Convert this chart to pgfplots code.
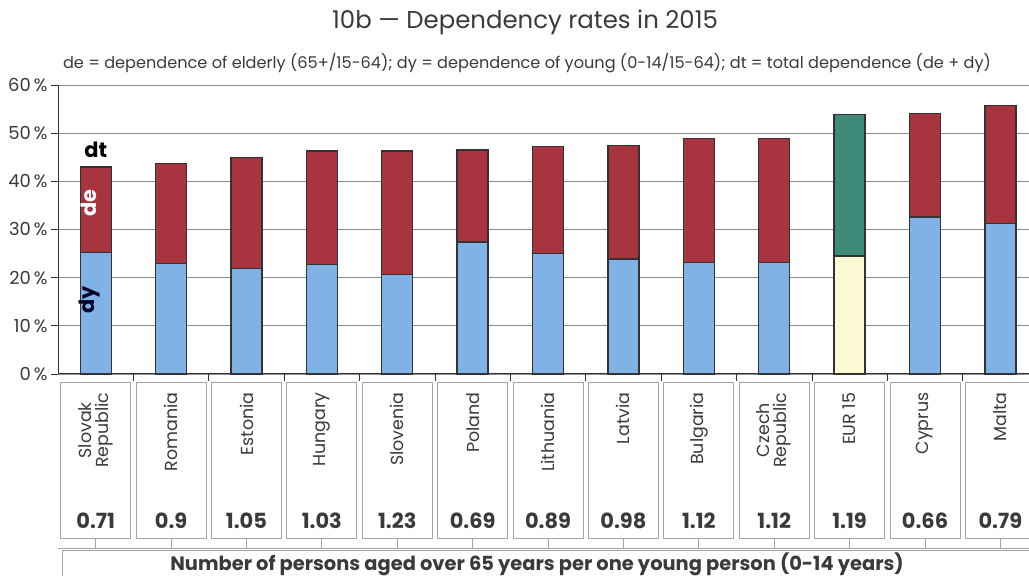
\documentclass[border=0pt]{standalone}
\usepackage{pgfplots}
\pgfplotsset{compat=1.18}
\usepackage{pgfplotstable}
\usepackage{fontspec}
\setmainfont{Poppins}

\definecolor{txt}{HTML}{3A3A3A}
\definecolor{dyblue}{HTML}{80B2E6}
\definecolor{dered}{HTML}{A8343F}
\definecolor{eugreen}{HTML}{3F8A78}
\definecolor{euyellow}{HTML}{FCFAD2}
\definecolor{edge}{HTML}{333333}
\definecolor{gridc}{HTML}{8C8C8C}
\definecolor{boxc}{HTML}{A5A5A5}

% dy = young dependence, de = elderly dependence (in %), EUR 15 kept in its own columns
\pgfplotstableread{
idx dy   yel  de   grn
0   25.2 0    17.8 0
1   23.0 0    20.7 0
2   21.9 0    23.1 0
3   22.8 0    23.5 0
4   20.7 0    25.6 0
5   27.4 0    19.1 0
6   25.0 0    22.2 0
7   23.9 0    23.5 0
8   23.1 0    25.8 0
9   23.1 0    25.8 0
10  0    24.5 0    29.4
11  32.6 0    21.5 0
12  31.3 0    24.5 0
}\rates

\begin{document}
\begin{tikzpicture}[x=1bp,y=1bp]
\useasboundingbox (0,0) rectangle (1029,576);

\node[text=txt, font=\fontsize{24.5}{27}\selectfont] at (525,554) {10b — Dependency rates in 2015};
\node[text=txt, font=\fontsize{16.2}{18}\selectfont] at (527,513)
  {de = dependence of elderly (65+/15-64); dy = dependence of young (0-14/15-64); dt = total dependence (de + dy)};

\tikzset{seglabel/.style={font=\bfseries\fontsize{21}{21}\selectfont}}

% stacked dependency rates
\begin{axis}[
  at={(58bp,202bp)}, anchor=south west,
  scale only axis, width=971bp, height=289bp,
  xmin=-0.5, xmax=12.38, ymin=0, ymax=60,
  ybar stacked, bar width=31bp,
  axis x line*=bottom, axis y line*=left,
  axis line style={edge, line width=1pt, -},
  xtick={0.5,1.5,...,11.5}, xticklabels={},
  tick align=outside, major tick length=7bp,
  tick style={edge, line width=0.8pt},
  ytick={0,10,...,60},
  /pgf/number format/assume math mode=true,
  yticklabel={\pgfmathprintnumber{\tick}\,\%},
  yticklabel style={font=\fontsize{18}{18}\selectfont, text=txt},
  ymajorgrids, grid style={gridc, line width=0.8pt},
  every axis plot/.append style={draw=edge, line width=1.3pt},
  clip=false,
  after end axis/.append code={
    \node[seglabel, text=black] at (axis cs:0,46.5) {dt};
    \node[seglabel, text=white, rotate=90] at (axis cs:-0.09,35.5) {de};
    \node[seglabel, text=black!85!blue, rotate=90] at (axis cs:-0.08,15.4) {dy};
  },
]
\addplot[fill=dyblue]   table[x=idx, y=dy]  {\rates};
\addplot[fill=euyellow] table[x=idx, y=yel] {\rates};
\addplot[fill=dered]    table[x=idx, y=de]  {\rates};
\addplot[fill=eugreen]  table[x=idx, y=grn] {\rates};
\end{axis}

% country boxes with old/young ratios
\begin{axis}[
  at={(58bp,28bp)}, anchor=south west,
  scale only axis, width=971bp, height=166bp,
  xmin=-0.5, xmax=12.38, ymin=-0.064, ymax=1,
  axis y line=none, axis x line*=bottom,
  axis line style={boxc, line width=0.8pt, -},
  xtick={0,...,12}, xticklabels={},
  tick align=inside, major tick length=10bp,
  tick style={boxc, line width=0.8pt},
  clip=false,
]
\addplot[ybar, bar width=70bp, draw=boxc, fill=white, line width=0.8pt]
  coordinates {(0,1) (1,1) (2,1) (3,1) (4,1) (5,1) (6,1) (7,1) (8,1) (9,1) (10,1) (11,1) (12,1)};
\addplot[only marks, mark=none, nodes near coords, point meta=explicit symbolic,
  nodes near coords style={font=\bfseries\fontsize{21}{21}\selectfont, text=txt, anchor=base, inner sep=0pt}]
  coordinates {(0,0.062)[0.71] (1,0.062)[0.9] (2,0.062)[1.05] (3,0.062)[1.03] (4,0.062)[1.23]
               (5,0.062)[0.69] (6,0.062)[0.89] (7,0.062)[0.98] (8,0.062)[1.12] (9,0.062)[1.12]
               (10,0.062)[1.19] (11,0.062)[0.66] (12,0.062)[0.79]};
\tikzset{cname/.style={rotate=90, anchor=east, align=center, inner sep=0pt, text=txt,
  font=\fontsize{17.5}{17}\selectfont}}
\node[cname] at (axis cs:0,0.934) {Slovak\\Republic};
\node[cname] at (axis cs:1,0.934) {Romania};
\node[cname] at (axis cs:2,0.934) {Estonia};
\node[cname] at (axis cs:3,0.934) {Hungary};
\node[cname] at (axis cs:4,0.934) {Slovenia};
\node[cname] at (axis cs:5,0.934) {Poland};
\node[cname] at (axis cs:6,0.934) {Lithuania};
\node[cname] at (axis cs:7,0.934) {Latvia};
\node[cname] at (axis cs:8,0.934) {Bulgaria};
\node[cname] at (axis cs:9,0.934) {Czech\\Republic};
\node[cname] at (axis cs:10,0.934) {EUR 15};
\node[cname] at (axis cs:11,0.934) {Cyprus};
\node[cname] at (axis cs:12,0.934) {Malta};
\end{axis}

\draw[boxc, line width=0.8pt] (62,-20) rectangle (1045,26);
\node[text=txt, font=\bfseries\fontsize{19.5}{20}\selectfont] at (537,12)
  {Number of persons aged over 65 years per one young person (0-14 years)};
\end{tikzpicture}
\end{document}
